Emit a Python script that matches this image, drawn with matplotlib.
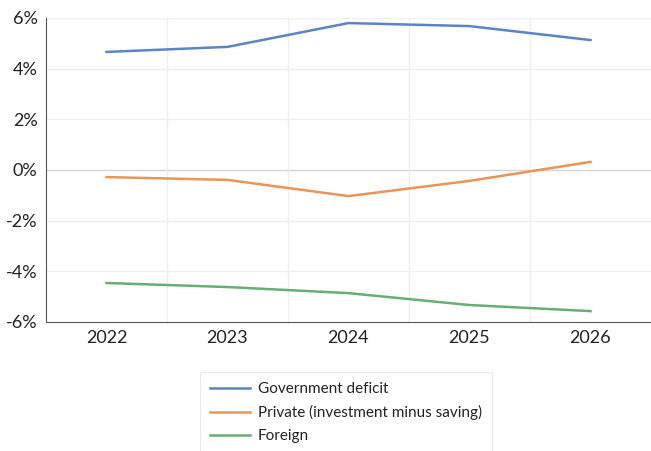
import matplotlib.pyplot as plt
from matplotlib.ticker import FuncFormatter

years = ['2022', '2023', '2024', '2025', '2026']
government = [4.66, 4.86, 5.80, 5.68, 5.13]
private = [-0.28, -0.39, -1.03, -0.43, 0.32]
foreign = [-4.46, -4.62, -4.86, -5.33, -5.57]

series = [
    ('Government deficit', government, '#5B84C4'),
    ('Private (investment minus saving)', private, '#E8955A'),
    ('Foreign', foreign, '#66AE74'),
]

plt.rcParams['font.family'] = ['Lato', 'DejaVu Sans']

fig = plt.figure(figsize=(6.51, 4.51), dpi=100)
ax = fig.add_axes([46 / 651, 1 - 322 / 451, 1 - 46 / 651, 304 / 451])

x = list(range(len(years)))
lines = []
for name, vals, color in series:
    ln, = ax.plot(x, vals, color=color, linewidth=1.8, label=name)
    lines.append(ln)

ax.set_xlim(-0.5, len(years) - 0.5)
ax.set_ylim(-6, 6)
ax.set_yticks(range(-6, 7, 2))
ax.yaxis.set_major_formatter(FuncFormatter(lambda v, _: f'{v:.0f}%'))
ax.set_xticks(x)
ax.set_xticklabels(years)
ax.tick_params(axis='both', length=0, labelsize=13, colors='#222222', pad=6)

# horizontal grid, zero line darker
for v in range(-4, 7, 2):
    ax.axhline(v, color='#d4d4d4' if v == 0 else '#efefef', linewidth=1, zorder=0)
for b in [0.5, 1.5, 2.5, 3.5]:
    ax.axvline(b, color='#efefef', linewidth=1, zorder=0)

for s in ['top', 'right']:
    ax.spines[s].set_visible(False)
ax.spines['left'].set_color('#555555')
ax.spines['bottom'].set_color('#555555')

leg = fig.legend(handles=lines, loc='upper left', bbox_to_anchor=(200 / 651, 1 - 372 / 451),
                 frameon=True, fancybox=False, fontsize=11, handlelength=2.6,
                 handletextpad=0.55, labelspacing=0.6, borderpad=0.65, borderaxespad=0)
leg.get_frame().set_edgecolor('#e6e6e6')
leg.get_frame().set_linewidth(1)
for t in leg.get_texts():
    t.set_color('#222222')

fig.savefig('out.png', dpi=100)
